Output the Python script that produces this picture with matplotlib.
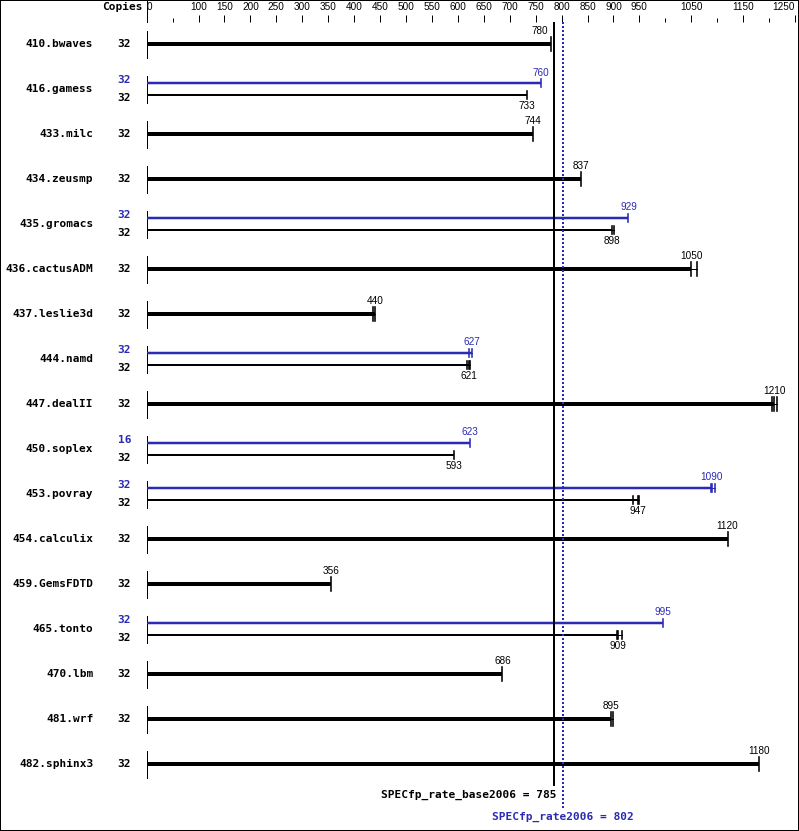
import matplotlib
matplotlib.use("Agg")
import matplotlib.pyplot as plt
import matplotlib.transforms as mtransforms
from matplotlib.patches import Rectangle

# ---- data ----
benchmarks = ["410.bwaves", "416.gamess", "433.milc", "434.zeusmp", "435.gromacs",
              "436.cactusADM", "437.leslie3d", "444.namd", "447.dealII", "450.soplex",
              "453.povray", "454.calculix", "459.GemsFDTD", "465.tonto", "470.lbm",
              "481.wrf", "482.sphinx3"]
base_copies = [32, 32, 32, 32, 32, 32, 32, 32, 32, 32, 32, 32, 32, 32, 32, 32, 32]
peak_copies = [None, 32, None, None, 32, None, None, 32, None, 16, 32, None, None, 32, None, None, None]
base_ratio = [780, 733, 744, 837, 898, 1050, 440, 621, 1210, 593, 947, 1120, 356, 909, 686, 895, 1180]
peak_ratio = [None, 760, None, None, 929, None, None, 627, None, 623, 1090, None, None, 995, None, None, None]
base_runs = [[780, 780, 780], [733, 733, 733], [744, 744, 744], [837, 837, 837],
             [898, 898, 902], [1050, 1050, 1062], [437, 440, 440], [618, 621, 623],
             [1206, 1210, 1215], [593, 593, 593], [938, 947, 950], [1120, 1120, 1120],
             [356, 356, 356], [907, 909, 916], [686, 686, 686], [895, 895, 899],
             [1180, 1180, 1180]]
peak_runs = [None, [760, 760, 760], None, None, [929, 929, 929], None, None, [622, 627, 627],
             None, [623, 623, 623], [1088, 1090, 1096], None, None, [995, 995, 995],
             None, None, None]
major_ticks = [0, 100, 150, 200, 250, 300, 350, 400, 450, 500, 550, 600, 650, 700,
               750, 800, 850, 900, 950, 1050, 1150, 1250]
minor_ticks = [50, 1000, 1100, 1200]
base_score = 785
peak_score = 802

BLUE = "#2a2ab4"
W, H = 799, 831
PX = 0.72  # points per pixel at 100 dpi

fig = plt.figure(figsize=(W / 100, H / 100), dpi=100)
top_px = 22
ax = fig.add_axes([0, 0, 1, (H - top_px) / H])
x0_px, scale = 146.7, 0.5186
ax.set_xlim(-x0_px / scale, (W - x0_px) / scale)
ax.set_ylim(H, top_px)
for s in ax.spines.values():
    s.set_visible(False)
ax.yaxis.set_visible(False)

numfont = dict(family="Liberation Sans", fontsize=7.2)
boldfont = dict(family="DejaVu Sans Mono", fontsize=8, fontweight="bold")

# top axis
ax.xaxis.tick_top()
ax.set_xticks(major_ticks)
ax.set_xticks(minor_ticks, minor=True)
ax.set_xticklabels([str(t) for t in major_ticks], **numfont)
ax.tick_params(axis="x", which="major", length=7 * PX, width=1 * PX, pad=3 * PX, direction="out")
ax.tick_params(axis="x", which="minor", length=4 * PX, width=1 * PX, direction="out")
labels = ax.get_xticklabels()
labels[0].set_ha("left")
labels[-1].set_ha("right")
ax.plot([0, 0], [0, top_px], color="black", lw=1 * PX, clip_on=False)
ax.text(-8, 7, "Copies", ha="right", va="center", **boldfont)

row0, step = 44, 45
for i, name in enumerate(benchmarks):
    yc = row0 + step * i
    ax.plot([0, 0], [yc - 13, yc + 14], color="black", lw=1 * PX)
    ax.text(-103, yc, name, ha="right", va="center", **boldfont)
    if peak_ratio[i] is None:
        series = [(yc, base_ratio[i], base_runs[i], "black", 4, 7, -13, base_copies[i], 0)]
    else:
        series = [(yc - 6, peak_ratio[i], peak_runs[i], BLUE, 2.5, 4, -10.5, peak_copies[i], -9),
                  (yc + 6, base_ratio[i], base_runs[i], "black", 2, 4, 11, base_copies[i], 9)]
    for y, val, runs, col, lw, cap, loff, cp, coff in series:
        ax.plot([0, val], [y, y], color=col, lw=lw * PX, solid_capstyle="butt")
        ax.plot([min(runs), max(runs)], [y, y], color=col, lw=1 * PX)
        for r in sorted(set(runs)):
            ax.plot([r, r], [y - cap, y + cap], color=col, lw=1.6 * PX)
        ha = "center"
        xl = val
        if abs(val - base_score) < 20:
            ha = "right"
            xl = val - 6
        ax.text(xl, y + loff, str(val), ha=ha, va="center", color=col, **numfont)
        ax.text(-43, yc + coff, str(cp), ha="center", va="center", color=col, **boldfont)

# score lines
ax.plot([base_score, base_score], [top_px, 785], color="black", lw=2 * PX)
ax.plot([peak_score, peak_score], [top_px, 810], color=BLUE, lw=2 * PX, linestyle=(0, (1, 1)))
off = mtransforms.offset_copy(ax.transData, fig=fig, x=3, y=0, units="dots")
ax.text(base_score, 795, "SPECfp_rate_base2006 = %d" % base_score, ha="right", va="center",
        transform=off, **boldfont)
ax.text(peak_score, 817, "SPECfp_rate2006 = %d" % peak_score, ha="center", va="center",
        color=BLUE, **boldfont)

fig.patches.append(Rectangle((0, 0), 1, 1, transform=fig.transFigure, fill=False,
                             edgecolor="black", lw=2 * PX))
fig.savefig("out.png", dpi=100)
